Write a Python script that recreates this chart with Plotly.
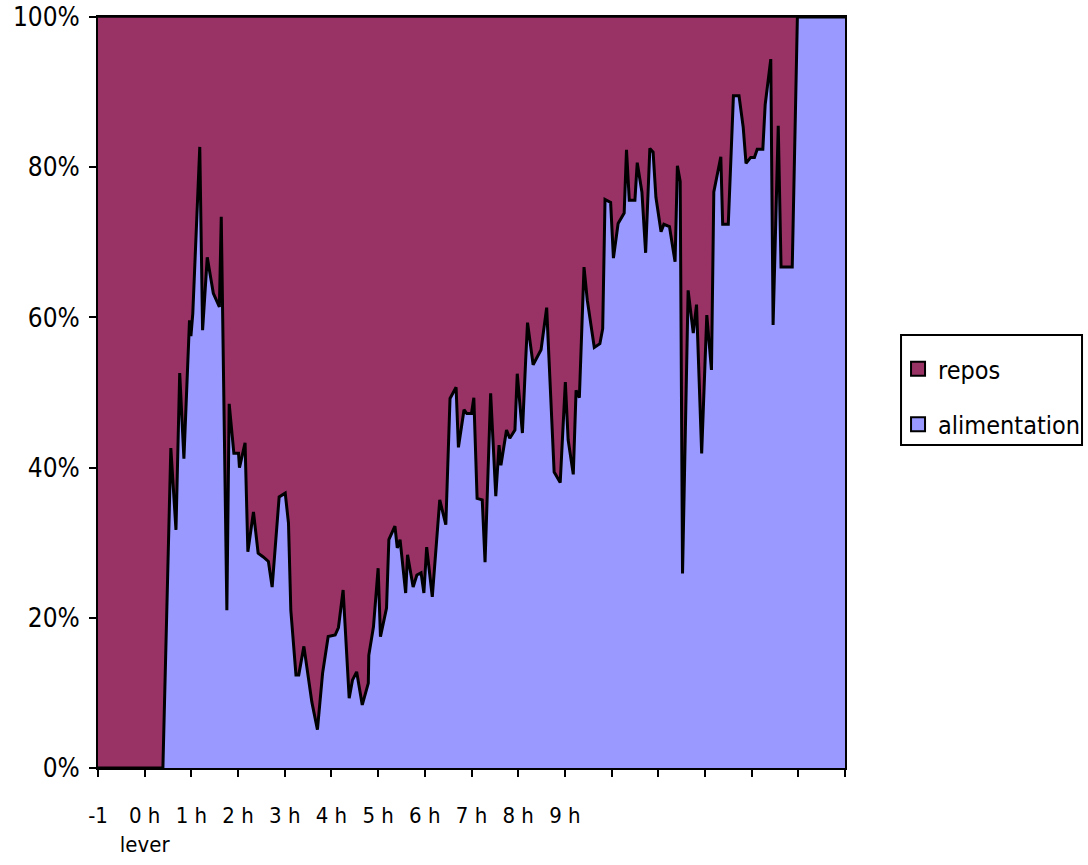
import plotly.graph_objects as go

# time in hours relative to "lever" and share of "alimentation" (%)
hours = [-1.00, 0.39, 0.56, 0.67, 0.75, 0.84, 0.96, 0.99, 1.03, 1.18, 1.24, 1.34, 1.47, 1.60, 1.64,
         1.76, 1.81, 1.91, 2.01, 2.03, 2.15, 2.21, 2.33, 2.43, 2.54, 2.65, 2.73, 2.88, 3.01, 3.08,
         3.13, 3.24, 3.30, 3.41, 3.58, 3.70, 3.81, 3.93, 4.08, 4.15, 4.25, 4.38, 4.45, 4.54, 4.66,
         4.79, 4.80, 4.90, 5.00, 5.05, 5.18, 5.23, 5.36, 5.41, 5.47, 5.59, 5.63, 5.75, 5.83, 5.92,
         5.98, 6.04, 6.16, 6.25, 6.32, 6.45, 6.54, 6.67, 6.72, 6.84, 6.90, 7.00, 7.05, 7.12, 7.23,
         7.29, 7.41, 7.52, 7.59, 7.63, 7.75, 7.82, 7.93, 7.98, 8.09, 8.16, 8.20, 8.32, 8.49, 8.61,
         8.68, 8.77, 8.90, 9.01, 9.07, 9.18, 9.24, 9.31, 9.41, 9.48, 9.63, 9.75, 9.81, 9.86, 9.98,
         10.04, 10.14, 10.27, 10.32, 10.38, 10.50, 10.55, 10.65, 10.73, 10.82, 10.89, 10.95, 11.06,
         11.12, 11.24, 11.36, 11.41, 11.47, 11.52, 11.64, 11.75, 11.82, 11.93, 12.04, 12.14, 12.19,
         12.34, 12.38, 12.50, 12.61, 12.73, 12.82, 12.88, 12.98, 13.06, 13.12, 13.24, 13.29, 13.41,
         13.46, 13.57, 13.63, 13.87, 13.98, 15.00]

alimentation = [0, 0, 42.6, 31.7, 52.6, 41.2, 59.6, 57.5, 60.5, 82.7, 58.3, 68.0, 63.2, 61.4, 73.4,
                21.0, 48.5, 41.9, 41.9, 40.0, 43.3, 28.8, 34.1, 28.6, 28.1, 27.5, 24.1, 36.1, 36.6, 32.6,
                21.0, 12.4, 12.4, 16.2, 8.8, 5.1, 12.6, 17.5, 17.7, 18.7, 23.7, 9.3, 11.7, 12.8, 8.4,
                11.3, 15.0, 18.8, 26.6, 17.5, 21.3, 30.4, 32.2, 29.3, 30.4, 23.3, 28.4, 24.1, 25.7, 26.0,
                23.3, 29.4, 22.8, 29.5, 35.7, 32.4, 49.2, 50.7, 42.7, 47.7, 47.2, 47.2, 49.3, 35.9, 35.7,
                27.4, 49.9, 36.2, 43.0, 40.3, 45.0, 43.9, 45.0, 52.5, 44.6, 54.3, 59.3, 53.7, 55.7, 61.3,
                52.1, 39.4, 38.0, 51.4, 43.7, 39.1, 50.3, 49.3, 66.7, 62.3, 56.0, 56.5, 58.5, 75.7, 75.3,
                67.9, 72.5, 73.9, 82.3, 75.6, 75.6, 80.6, 76.7, 68.6, 82.5, 82.0, 76.0, 71.4,
                72.4, 72.1, 67.4, 80.2, 78.1, 25.9, 63.6, 57.9, 61.7, 41.9, 60.3, 53.0, 76.7,
                81.4, 72.4, 72.4, 89.5, 89.5, 85.3, 80.5, 81.3, 81.3, 82.4, 82.4, 88.3, 94.4,
                59.0, 85.5, 66.7, 66.7, 100, 100]

repos = [round(100 - v, 1) for v in alimentation]

tick_vals = list(range(-1, 16))
tick_text = ["-1", "0 h<br>lever", "1 h", "2 h", "3 h", "4 h", "5 h", "6 h", "7 h", "8 h", "9 h",
             "", "", "", "", "", ""]

COL_ALIM = "#9999FF"
COL_REPOS = "#993366"
FONT = "Liberation Sans Narrow, Arial Narrow, DejaVu Sans Condensed, Liberation Sans, Arial, sans-serif"

fig = go.Figure()
fig.add_trace(go.Scatter(x=hours, y=alimentation, name="alimentation", stackgroup="s",
                         mode="lines", line=dict(color="black", width=3), fillcolor=COL_ALIM,
                         showlegend=False, hoverinfo="x+y"))
fig.add_trace(go.Scatter(x=hours, y=repos, name="repos", stackgroup="s",
                         mode="lines", line=dict(color="black", width=1.5), fillcolor=COL_REPOS,
                         showlegend=False, hoverinfo="x+y"))
# legend entries (repos listed first, as in the original)
fig.add_trace(go.Scatter(x=[None], y=[None], mode="markers", name="repos",
                         legendgroup="r",
                         marker=dict(symbol="square", size=14, color=COL_REPOS,
                                     line=dict(color="black", width=2))))
fig.add_trace(go.Scatter(x=[None], y=[None], mode="markers", name="alimentation",
                         legendgroup="a",
                         marker=dict(symbol="square", size=14, color=COL_ALIM,
                                     line=dict(color="black", width=2))))

# legend frame
fig.add_shape(type="rect", xref="paper", yref="paper",
              x0=1.075, x1=1.3173, y0=0.4301, y1=0.5766,
              line=dict(color="black", width=2), fillcolor="rgba(0,0,0,0)", layer="below")

fig.update_layout(
    width=1088, height=865,
    margin=dict(l=98, r=243, t=17, b=97, autoexpand=False),
    paper_bgcolor="white", plot_bgcolor="white",
    font=dict(family=FONT, size=22, color="black"),
    showlegend=True,
    legend=dict(x=1.071, y=0.5619, xanchor="left", yanchor="top",
                traceorder="grouped", tracegroupgap=20,
                borderwidth=0, bgcolor="rgba(0,0,0,0)",
                font=dict(family=FONT, size=25)),
    xaxis=dict(range=[-1, 15], tickmode="array", tickvals=tick_vals, ticktext=tick_text,
               automargin=False,
               showgrid=False, zeroline=False, showline=True, linecolor="black", linewidth=2,
               mirror=True, ticks="outside", ticklen=7, tickwidth=2, tickcolor="black",
               ticklabelstandoff=20, tickfont=dict(family=FONT, size=22)),
    yaxis=dict(range=[0, 100], tickmode="array", tickvals=[0, 20, 40, 60, 80, 100],
               ticktext=["0%", "20%", "40%", "60%", "80%", "100%"],
               automargin=False,
               showgrid=False, zeroline=False, showline=True, linecolor="black", linewidth=2,
               mirror=True, ticks="outside", ticklen=7, tickwidth=2, tickcolor="black",
               ticklabelstandoff=4, tickfont=dict(family=FONT, size=26)),
)

fig.write_html("out.html", config={"displayModeBar": False},
               post_script="document.body.style.margin='0';")
